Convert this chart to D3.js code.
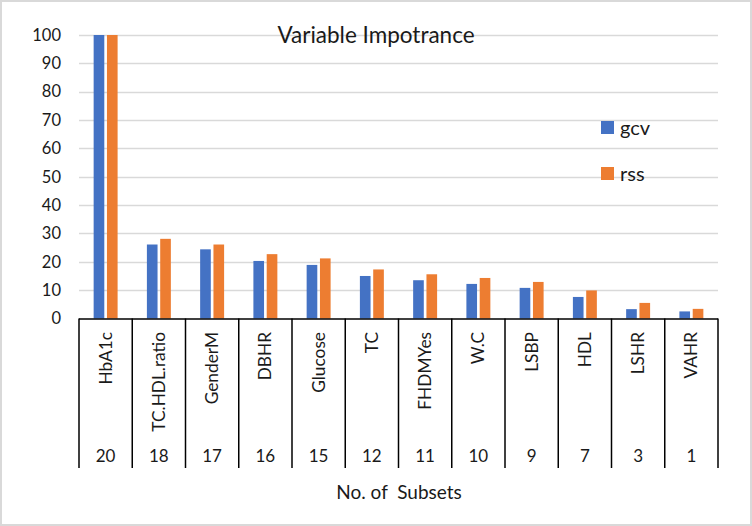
<!DOCTYPE html>
<html><head><meta charset="utf-8">
<script src="https://cdn.jsdelivr.net/npm/d3@7"></script>
<style>body{margin:0;background:#fff}svg{display:block}text{font-family:Lato,"Open Sans",sans-serif;fill:#1a1a1a}</style>
</head><body><svg id="c" width="752" height="526"></svg>
<script>
const categories = ["HbA1c","TC.HDL.ratio","GenderM","DBHR","Glucose","TC","FHDMYes","W.C","LSBP","HDL","LSHR","VAHR"];
const subsets = [20,18,17,16,15,12,11,10,9,7,3,1];
const gcv = [100,26.1,24.4,20.3,18.9,15.0,13.5,12.2,10.8,7.6,3.3,2.5];
const rss = [100,28.1,26.1,22.7,21.2,17.3,15.6,14.3,12.9,9.9,5.5,3.4];
const seriesNames = ["gcv","rss"];
const colors = ["#4472C4","#ED7D31"];
const yTicks = [0,10,20,30,40,50,60,70,80,90,100];

const svg = d3.select("#c");
svg.append("rect").attr("x",1).attr("y",1).attr("width",750).attr("height",524)
  .attr("fill","#fff").attr("stroke","#d9d9d9").attr("stroke-width",2);

const L=79,R=718,T=35,B=318.5;
const x = d3.scaleBand().domain(categories).range([L,R]);
const xs = d3.scaleBand().domain(seriesNames).range([0,x.bandwidth()]).paddingInner(0.2).paddingOuter(1.1);
const y = d3.scaleLinear().domain([0,100]).range([B,T]);

// gridlines
svg.append("g").selectAll("line").data(yTicks.filter(d=>d>0)).join("line")
  .attr("x1",L).attr("x2",R).attr("y1",d=>Math.round(y(d))+0.5).attr("y2",d=>Math.round(y(d))+0.5)
  .attr("stroke","#d9d9d9").attr("stroke-width",1.5);

// y labels
svg.append("g").selectAll("text").data(yTicks).join("text")
  .attr("x",61).attr("y",d=>y(d)).attr("dy","0.35em").attr("text-anchor","end")
  .attr("font-size",16.5).text(d=>d);

// bars
const series=[gcv,rss];
series.forEach((s,si)=>{
  svg.append("g").selectAll("rect").data(categories).join("rect")
    .attr("x",(c)=>x(c)+xs(seriesNames[si]))
    .attr("width",xs.bandwidth())
    .attr("y",(c,i)=>y(s[i]))
    .attr("height",(c,i)=>B-y(s[i]))
    .attr("fill",colors[si]);
});

// axis lines
const yb=468;
svg.append("line").attr("x1",L).attr("x2",R).attr("y1",B+0.5).attr("y2",B+0.5).attr("stroke","#000").attr("stroke-width",1.5);
svg.append("g").selectAll("line").data(d3.range(categories.length+1)).join("line")
  .attr("x1",i=>L+i*x.step()).attr("x2",i=>L+i*x.step())
  .attr("y1",B).attr("y2",yb).attr("stroke","#000").attr("stroke-width",1.5);

// category labels
svg.append("g").selectAll("text").data(categories).join("text")
  .attr("transform",c=>`translate(${x(c)+x.bandwidth()/2},332) rotate(-90)`)
  .attr("dy","0.35em").attr("text-anchor","end").attr("font-size",17.3).text(c=>c);

// subset labels
svg.append("g").selectAll("text").data(categories).join("text")
  .attr("x",c=>x(c)+x.bandwidth()/2).attr("y",462).attr("text-anchor","middle")
  .attr("font-size",17).text((c,i)=>subsets[i]);

svg.append("text").attr("x",399).attr("y",499).attr("text-anchor","middle").attr("font-size",19)
  .attr("xml:space","preserve").text("No. of  Subsets");

svg.append("text").attr("x",376).attr("y",43).attr("text-anchor","middle").attr("font-size",22.5).text("Variable Impotrance");

// legend
seriesNames.forEach((n,i)=>{
  const ly=121+i*46;
  svg.append("rect").attr("x",601).attr("y",ly).attr("width",13).attr("height",13).attr("fill",colors[i]);
  svg.append("text").attr("x",620).attr("y",ly+6.5).attr("dy","0.35em").attr("font-size",20).text(n);
});
</script></body></html>
